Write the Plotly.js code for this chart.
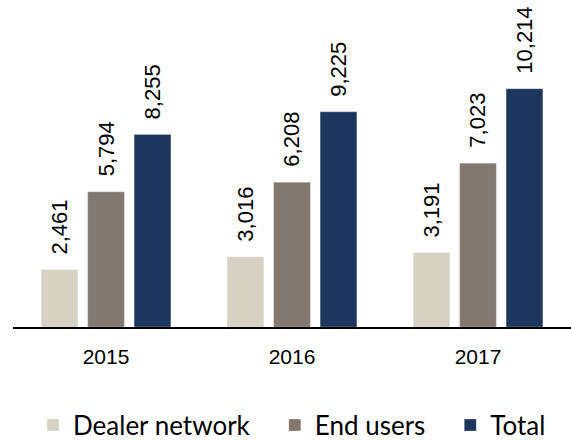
<!DOCTYPE html>
<html><head><meta charset="utf-8">
<script src="https://cdn.plot.ly/plotly-3.0.1.min.js"></script>
<style>html,body{margin:0;padding:0;background:#fff}#chart{width:571px;height:440px}</style>
</head><body><div id="chart"></div>
<script>
var years = ['2015', '2016', '2017'];
var seriesNames = ['Dealer network', 'End users', 'Total'];
var dealer = [2461, 3016, 3191];
var endUsers = [5794, 6208, 7023];
var total = [8255, 9225, 10214];
var colors = ['#d6d3c5', '#83786f', '#1d365e'];

var allSeries = [dealer, endUsers, total];
var pad = '\u00a0\u00a0\u00a0';
var traces = allSeries.map(function (vals, i) {
  return {
    type: 'bar', name: seriesNames[i] + (i < 2 ? pad : ''), x: years, y: vals,
    marker: {color: colors[i], line: {color: 'rgba(255,255,255,0.5)', width: 0.5}},
    hoverinfo: 'skip'
  };
});

var labelFont = {family: 'Liberation Sans', size: 22, color: '#000'};
var annotations = [];
allSeries.forEach(function (vals, i) {
  vals.forEach(function (v, j) {
    annotations.push({
      x: j + (i - 1) * 0.25, y: v, xref: 'x', yref: 'y',
      text: v.toLocaleString('en-US'), showarrow: false,
      textangle: -90, xanchor: 'center', yanchor: 'bottom', yshift: 13,
      font: labelFont
    });
  });
});

var layout = {
  width: 571, height: 440,
  margin: {l: 13, r: 0, t: 0, b: 113, autoexpand: false},
  paper_bgcolor: '#fff', plot_bgcolor: '#fff',
  barmode: 'group', bargap: 0.25, bargroupgap: 0.21,
  showlegend: true,
  legend: {orientation: 'h', x: 0.5, xanchor: 'center', y: -0.30, yanchor: 'middle',
    itemwidth: 30,
    font: {family: 'Lato', size: 26, color: '#000'},
    itemclick: false, itemdoubleclick: false},
  xaxis: {type: 'category', showline: true, linecolor: '#000', linewidth: 2,
    ticks: '', showgrid: false, zeroline: false, ticklabelstandoff: 10,
    tickfont: {family: 'Liberation Sans', size: 21, color: '#000'}},
  yaxis: {range: [0, 14016], visible: false, showgrid: false, zeroline: false},
  annotations: annotations
};

Plotly.newPlot('chart', traces, layout, {displayModeBar: false, staticPlot: true});
</script></body></html>
